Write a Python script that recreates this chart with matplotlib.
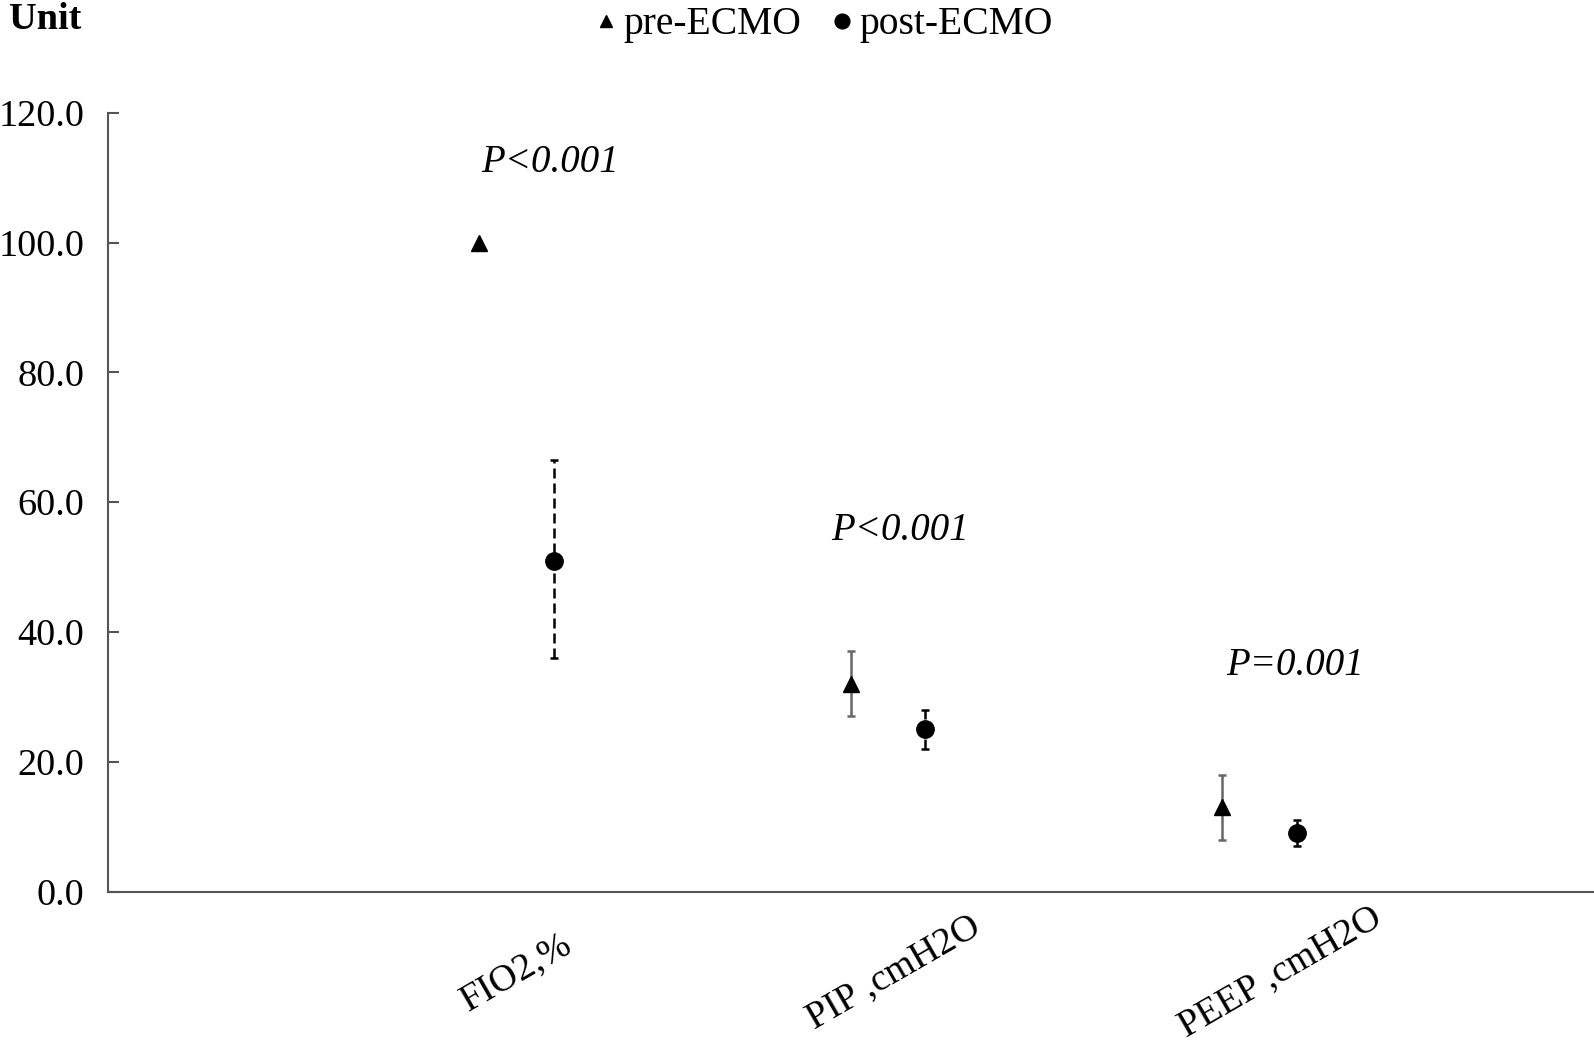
import numpy as np
import matplotlib.pyplot as plt

plt.rcParams['font.family'] = ['Liberation Serif', 'DejaVu Serif']

# data
categories = ["FIO2,%", "PIP ,cmH2O", "PEEP ,cmH2O"]
pre_val = [100.0, 32.0, 13.0]
pre_low = [100.0, 27.0, 8.0]
pre_high = [100.0, 37.0, 18.0]
post_val = [51.0, 25.0, 9.0]
post_low = [36.0, 22.0, 7.0]
post_high = [66.5, 28.0, 11.0]
p_texts = ["P<0.001", "P<0.001", "P=0.001"]
p_x = [1.005, 1.946, 3.010]
p_y = [112.3, 55.7, 34.8]

pos = np.arange(1, len(categories) + 1)
offset = 0.2

fig = plt.figure(figsize=(15.94, 10.41), dpi=100)
ax = fig.add_axes([0.0676, 0.1435, 0.9324, 0.7481])

pre_val = np.array(pre_val)
post_val = np.array(post_val)
pre_err = np.array([pre_val - np.array(pre_low), np.array(pre_high) - pre_val])
post_err = np.array([post_val - np.array(post_low), np.array(post_high) - post_val])

# pre-ECMO: grey whiskers (only where there is a spread)
has = (pre_err.sum(axis=0) > 0)
ax.errorbar(pos[has], pre_val[has], yerr=pre_err[:, has], fmt='none',
            ecolor='#666666', elinewidth=1.8, capsize=3, capthick=1.8, zorder=2)
ax.plot(pos, pre_val, linestyle='none', marker='^', ms=11, color='black',
        zorder=3, label='pre-ECMO')

# post-ECMO: black dashed whiskers
_, caps, bars = ax.errorbar(pos + offset, post_val, yerr=post_err, fmt='none',
                            ecolor='black', elinewidth=1.8, capsize=3,
                            capthick=1.8, zorder=2)
bars[0].set_linestyle((0, (4, 2)))
ax.plot(pos + offset, post_val, linestyle='none', marker='o', ms=12.5,
        color='black', zorder=3, label='post-ECMO')

for x, y, t in zip(p_x, p_y, p_texts):
    ax.text(x, y, t, fontsize=28, style='italic', ha='left', va='center')

ax.set_xlim(0, 4)
ax.set_ylim(0, 120)
ax.set_yticks(np.arange(0, 121, 20))
ax.set_yticklabels([f"{v:.1f}" for v in np.arange(0, 121, 20)])
# label anchors, nudged to where the names sit under each pair
ax.set_xticks(pos + offset / 2 + np.array([0.0, 0.016, 0.055]))
ax.set_xticklabels(categories, rotation=30, ha='center', va='center')

ax.tick_params(axis='y', direction='in', length=8, width=1.5, color='#555555',
               labelsize=27.5, pad=17)
ax.tick_params(axis='x', length=0, labelsize=27.5, pad=58)

for s in ['top', 'right']:
    ax.spines[s].set_visible(False)
for s in ['left', 'bottom']:
    ax.spines[s].set_color('#555555')
    ax.spines[s].set_linewidth(1.5)

fig.text(0.0055, 0.981, "Unit", fontsize=27.5, fontweight='bold',
         ha='left', va='center')

fig.legend(loc='center', bbox_to_anchor=(0.5165, 0.976), ncol=2,
           frameon=False, fontsize=28.5, handlelength=0.6, handletextpad=0.15,
           columnspacing=0.72, markerscale=0.85, borderpad=0)

fig.savefig('out.png', dpi=100)
